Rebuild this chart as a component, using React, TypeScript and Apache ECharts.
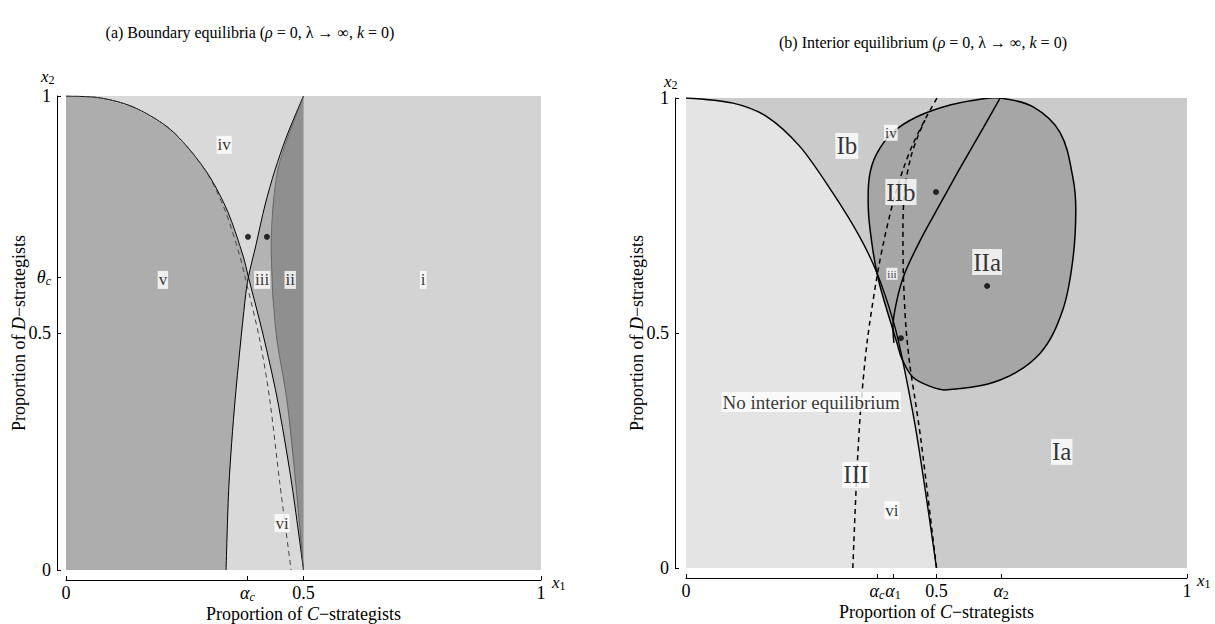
import React, { useEffect, useRef } from "react";
import * as echarts from "echarts";

const SERIF = "'Liberation Serif', 'Times New Roman', 'DejaVu Serif', serif";

// ---------- Panel (a): boundary equilibria ----------
const leftXTicks = [0, 0.382, 0.5, 1];
const leftXTickLabels = ["0", "{g|α}{s|c}", "0.5", "1"];
const leftYTicks = [0, 0.5, 0.618, 1];
const leftYTickLabels = ["0", "0.5", "{g|θ}{s|c}", "1"];

// curve A: from (0,1) down to the crossing, then to (0.5,0)
const curveAUpper = [[0, 1], [0.072, 0.996], [0.141, 0.977], [0.213, 0.935], [0.261, 0.886], [0.303, 0.829], [0.341, 0.755], [0.373, 0.662], [0.384, 0.618]];
const curveALower = [[0.384, 0.618], [0.415, 0.496], [0.444, 0.365], [0.474, 0.19], [0.5, 0]];
// curve B: rising from (0.337,0) through the crossing to (0.5,1)
const curveBLower = [[0.337, 0], [0.343, 0.179], [0.356, 0.359], [0.377, 0.57], [0.384, 0.618]];
const curveBUpper = [[0.384, 0.618], [0.4, 0.686], [0.419, 0.77], [0.44, 0.844], [0.463, 0.911], [0.482, 0.958], [0.5, 1]];
// curve C: left edge of region ii, from top to bottom
const curveC = [[0.5, 1], [0.484, 0.958], [0.466, 0.911], [0.446, 0.844], [0.436, 0.77], [0.432, 0.681], [0.434, 0.612], [0.436, 0.57], [0.444, 0.485], [0.465, 0.359], [0.484, 0.179], [0.5, 0]];
// dashed curve D
const curveD = [[0, 1], [0.072, 0.996], [0.141, 0.977], [0.213, 0.935], [0.261, 0.886], [0.303, 0.827], [0.337, 0.753], [0.366, 0.662], [0.377, 0.618], [0.408, 0.485], [0.429, 0.359], [0.45, 0.184], [0.474, 0]];
const leftDots = [[0.383, 0.703], [0.423, 0.703]];
const leftLabelTexts = ["iv", "v", "iii", "ii", "i", "vi"];
const leftLabelPos = [[0.333, 0.897], [0.204, 0.612], [0.413, 0.612], [0.472, 0.612], [0.752, 0.612], [0.455, 0.099]];

// ---------- Panel (b): interior equilibrium ----------
const rightXTicks = [0, 0.381, 0.413, 0.5, 0.629, 1];
const rightXTickLabels = ["0", "{g|α}{s|c}", "{g|α}{n|1}", "0.5", "{g|α}{n|2}", "1"];
const rightYTicks = [0, 0.5, 1];
const rightYTickLabels = ["0", "0.5", "1"];

const curveR = [[0, 1], [0.094, 0.989], [0.162, 0.96], [0.228, 0.896], [0.293, 0.798], [0.347, 0.704], [0.381, 0.628], [0.413, 0.528], [0.431, 0.449], [0.461, 0.28], [0.5, 0]];
const dashLeft = [[0.333, 0], [0.341, 0.202], [0.349, 0.343], [0.362, 0.485], [0.381, 0.619], [0.394, 0.691], [0.413, 0.777], [0.433, 0.847], [0.453, 0.902], [0.479, 0.958], [0.501, 1.0]];
const dashRight = [[0.5, 0], [0.469, 0.272], [0.457, 0.36], [0.447, 0.43], [0.439, 0.513], [0.434, 0.619], [0.433, 0.726], [0.437, 0.81], [0.449, 0.875], [0.463, 0.919], [0.477, 0.953]];
const blob = [[0.627, 1.0], [0.693, 0.981], [0.747, 0.926], [0.772, 0.832], [0.778, 0.762], [0.772, 0.655], [0.752, 0.549], [0.707, 0.457], [0.627, 0.4], [0.521, 0.379], [0.486, 0.387], [0.452, 0.407], [0.431, 0.445], [0.421, 0.479], [0.407, 0.528], [0.391, 0.585], [0.381, 0.628], [0.371, 0.691], [0.364, 0.762], [0.366, 0.832], [0.38, 0.88], [0.412, 0.926], [0.461, 0.96], [0.527, 0.985], [0.59, 0.998]];
const innerCurve = [[0.627, 1.0], [0.593, 0.936], [0.547, 0.851], [0.507, 0.774], [0.467, 0.696], [0.437, 0.628], [0.421, 0.57], [0.413, 0.513], [0.415, 0.479]];
const rightDots = [[0.499, 0.8], [0.601, 0.6], [0.429, 0.489]];
const rightLabelTexts = ["Ib", "iv", "IIb", "IIa", "iii", "No interior equilibrium", "III", "vi", "Ia"];
const rightLabelPos = [[0.321, 0.898], [0.409, 0.926], [0.429, 0.8], [0.601, 0.651], [0.411, 0.626], [0.25, 0.353], [0.339, 0.198], [0.411, 0.123], [0.75, 0.247]];

// ---------- styles ----------
const leftLabelSize: Record<string, number> = { iv: 17, v: 17, iii: 17, ii: 17, i: 17, vi: 17 };
const rightLabelSize: Record<string, number> = { Ib: 25, iv: 15, IIb: 25, IIa: 25, iii: 11, "No interior equilibrium": 19, III: 25, vi: 17, Ia: 25 };

const rich = {
  g: { fontFamily: SERIF, fontStyle: "italic", fontSize: 18, color: "#000", lineHeight: 18 },
  s: { fontFamily: SERIF, fontStyle: "italic", fontSize: 12, color: "#000", lineHeight: 12, padding: [8, 0, 0, 0] },
  n: { fontFamily: SERIF, fontSize: 12, color: "#000", lineHeight: 12, padding: [8, 0, 0, 0] },
  i: { fontFamily: SERIF, fontStyle: "italic", fontSize: 18, color: "#000" },
};

function tickFormatter(vals: number[], labels: string[]) {
  return (v: number) => {
    const i = vals.findIndex((t) => Math.abs(t - v) < 1e-6);
    return i >= 0 ? labels[i] : "";
  };
}

function xAxisCfg(grid: number, ticks: number[], labels: string[], gap: number) {
  return {
    type: "value", gridIndex: grid, min: 0, max: 1, offset: 10,
    name: "Proportion of {i|C}−strategists", nameLocation: "middle", nameGap: gap, nameMoveOverlap: false,
    nameTextStyle: { fontFamily: SERIF, fontSize: 18, color: "#000", rich },
    axisLine: { show: true, onZero: false, lineStyle: { color: "#000", width: 1 } },
    axisTick: { show: true, inside: true, length: 4, customValues: ticks, lineStyle: { color: "#000" } },
    axisLabel: { show: true, customValues: ticks, formatter: tickFormatter(ticks, labels), fontFamily: SERIF, fontSize: 18, color: "#000", margin: 4, rich, showMinLabel: true, showMaxLabel: true },
    splitLine: { show: false },
  };
}

function yAxisCfg(grid: number, ticks: number[], labels: string[], off: number) {
  return {
    type: "value", gridIndex: grid, min: 0, max: 1, offset: off,
    name: "Proportion of {i|D}−strategists", nameLocation: "middle", nameGap: 29, nameMoveOverlap: false,
    nameTextStyle: { fontFamily: SERIF, fontSize: 18, color: "#000", rich },
    axisLine: { show: true, onZero: false, lineStyle: { color: "#000", width: 1 } },
    axisTick: { show: true, inside: true, length: 4, customValues: ticks, lineStyle: { color: "#000" } },
    axisLabel: { show: true, customValues: ticks, formatter: tickFormatter(ticks, labels), fontFamily: SERIF, fontSize: 18, color: "#000", margin: 6, rich, showMinLabel: true, showMaxLabel: true },
    splitLine: { show: false },
  };
}

function fill(points: number[][], color: string, axis: number, opts: any = {}) {
  return {
    type: "custom", xAxisIndex: axis, yAxisIndex: axis, data: points, z: opts.z ?? 1, silent: true, clip: true,
    renderItem: (params: any, api: any) => {
      if (params.dataIndex !== 0) return null;
      return {
        type: "polygon",
        shape: { points: points.map((p) => api.coord(p)), smooth: opts.smooth ?? 0 },
        style: { fill: color, stroke: opts.stroke ?? "none", lineWidth: opts.lw ?? 0 },
      };
    },
  };
}

function line(points: number[][], axis: number, color: string, width: number, dashed: boolean) {
  return {
    type: "line", xAxisIndex: axis, yAxisIndex: axis, data: points, smooth: 0.3, symbol: "none", silent: true, z: 3,
    lineStyle: { color, width, type: dashed ? [5, 4] : "solid" },
  };
}

function dots(points: number[][], axis: number) {
  return {
    type: "scatter", xAxisIndex: axis, yAxisIndex: axis, data: points, symbol: "circle", symbolSize: 6, z: 4, silent: true,
    itemStyle: { color: "#000" },
  };
}

function labels(texts: string[], pos: number[][], sizes: Record<string, number>, axis: number) {
  return {
    type: "scatter", xAxisIndex: axis, yAxisIndex: axis, z: 5, silent: true, symbolSize: 1,
    itemStyle: { color: "rgba(0,0,0,0)" },
    data: texts.map((t, i) => ({
      value: pos[i], name: t,
      label: { show: true, position: "inside", formatter: t, fontFamily: SERIF, fontSize: sizes[t], color: "#000", backgroundColor: "#fff", padding: [1, 1, 0, 1] },
    })),
  };
}

const rev = (a: number[][]) => a.slice().reverse();

const subText = (t: string) => ({
  text: t, verticalAlign: "middle",
  rich: {
    x: { fontFamily: SERIF, fontSize: 17, fontStyle: "italic", lineHeight: 17 },
    s: { fontFamily: SERIF, fontSize: 12, lineHeight: 12, padding: [8, 0, 0, 0] },
  },
});

export default function App() {
  const ref = useRef<HTMLDivElement>(null);
  useEffect(() => {
    const chart = echarts.init(ref.current as HTMLDivElement, null, { renderer: "svg" });
    const polyI = [[0.5, 0], [1, 0], [1, 1], [0.5, 1]];
    const polyLight = [[0, 0], [0.5, 0], [0.5, 1], [0, 1]];
    const polyV = [[0, 0], ...curveAUpper, ...rev(curveBLower)];
    const polyIII = [...rev(curveBUpper), ...curveALower];
    const polyII = [...curveC];
    const polyRightAll = [[0, 0], [1, 0], [1, 1], [0, 1]];
    const polyNoEq = [[0, 0], ...curveR];
    const titleRich = { i: { fontFamily: SERIF, fontSize: 16, fontStyle: "italic" } };
    const option: any = {
      animation: false,
      grid: [
        { left: 66, top: 96, width: 475, height: 474, containLabel: false, outerBoundsMode: "none" },
        { left: 686, top: 98, width: 501, height: 470, containLabel: false, outerBoundsMode: "none" },
      ],
      xAxis: [xAxisCfg(0, leftXTicks, leftXTickLabels, 25), xAxisCfg(1, rightXTicks, rightXTickLabels, 25)],
      yAxis: [yAxisCfg(0, leftYTicks, leftYTickLabels, 9), yAxisCfg(1, rightYTicks, rightYTickLabels, 11)],
      graphic: [
        { type: "text", x: 250, y: 32, style: { text: "(a) Boundary equilibria ({i|ρ} = 0, λ → ∞, {i|k} = 0)", fontFamily: SERIF, fontSize: 16, fill: "#000", align: "center", verticalAlign: "middle", rich: titleRich } },
        { type: "text", x: 923, y: 42, style: { text: "(b) Interior equilibrium ({i|ρ} = 0, λ → ∞, {i|k} = 0)", fontFamily: SERIF, fontSize: 16, fill: "#000", align: "center", verticalAlign: "middle", rich: titleRich } },
        { type: "text", x: 552, y: 582, style: subText("{x|x}{s|1}") },
        { type: "text", x: 1197, y: 580, style: subText("{x|x}{s|1}") },
        { type: "text", x: 41, y: 76, style: subText("{x|x}{s|2}") },
        { type: "text", x: 664, y: 81, style: subText("{x|x}{s|2}") },
      ],
      series: [
        fill(polyI, "#d3d3d3", 0),
        fill(polyLight, "#d9d9d9", 0),
        fill(polyV, "#adadad", 0),
        fill(polyIII, "#b3b3b3", 0),
        fill(polyII, "#8f8f8f", 0),
        line([...curveAUpper, ...curveALower.slice(1)], 0, "#000", 1, false),
        line([...curveBLower, ...curveBUpper.slice(1)], 0, "#000", 1, false),
        line(curveC, 0, "#555", 0.8, false),
        line(curveD, 0, "#444", 1, true),
        dots(leftDots, 0),
        labels(leftLabelTexts, leftLabelPos, leftLabelSize, 0),

        fill(polyRightAll, "#cbcbcb", 1),
        fill(polyNoEq, "#e4e4e4", 1),
        fill(blob, "#a6a6a6", 1, { smooth: 0.35, stroke: "#000", lw: 1.5, z: 2 }),
        line(curveR, 1, "#000", 1.4, false),
        line(dashLeft, 1, "#000", 1.5, true),
        line(dashRight, 1, "#000", 1.5, true),
        line(innerCurve, 1, "#000", 1.5, false),
        dots(rightDots, 1),
        labels(rightLabelTexts, rightLabelPos, rightLabelSize, 1),
      ],
    };
    chart.setOption(option);
    return () => chart.dispose();
  }, []);
  return <div ref={ref} style={{ position: "absolute", left: 0, top: 0, width: 1215, height: 624, background: "#fff" }} />;
}
